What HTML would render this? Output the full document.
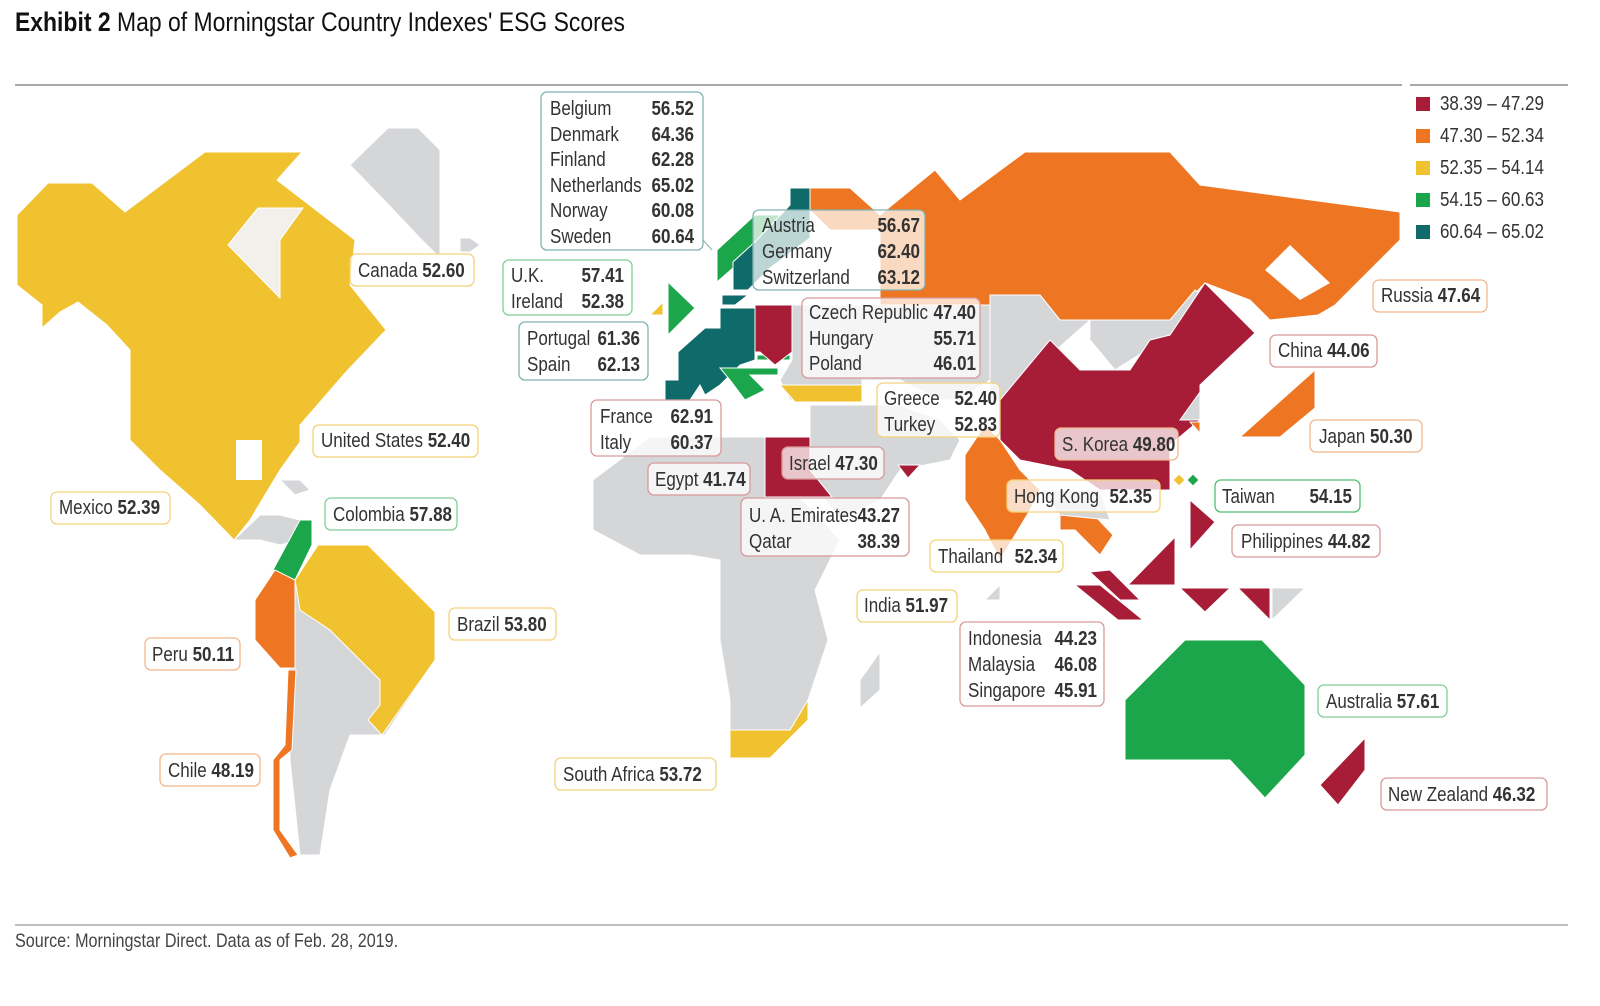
<!DOCTYPE html>
<html><head><meta charset="utf-8"><style>
html,body{margin:0;padding:0;background:#fff;width:1600px;height:1006px;overflow:hidden}
svg{display:block}
text{font-family:"Liberation Sans Narrow","Liberation Sans",sans-serif;font-size:20px;fill:#333;transform-box:fill-box;transform-origin:0 50%;transform:scaleX(0.85)}
text.r{text-anchor:end;transform-origin:100% 50%}
.b{font-weight:bold}
.lb{fill:rgba(255,255,255,0.75);stroke-width:1.3}
</style></head><body>
<svg width="1600" height="1006" viewBox="0 0 1600 1006">
<text x="15" y="31" style="font-size:27px;fill:#111;transform:scaleX(0.85)"><tspan class="b">Exhibit 2</tspan> Map of Morningstar Country Indexes' ESG Scores</text>
<line x1="15" y1="85" x2="1402" y2="85" stroke="#aaa" stroke-width="2"/>
<line x1="1410" y1="85" x2="1568" y2="85" stroke="#aaa" stroke-width="2"/>
<line x1="15" y1="925" x2="1568" y2="925" stroke="#aaa" stroke-width="1.5"/>
<text x="15" y="947" style="font-size:19px;fill:#444">Source: Morningstar Direct. Data as of Feb. 28, 2019.</text>

<g>
<rect x="1416" y="97" width="14" height="14" fill="#a71c37"/><text x="1440" y="110">38.39 – 47.29</text>
<rect x="1416" y="129" width="14" height="14" fill="#ee7623"/><text x="1440" y="142">47.30 – 52.34</text>
<rect x="1416" y="161" width="14" height="14" fill="#f1c22f"/><text x="1440" y="174">52.35 – 54.14</text>
<rect x="1416" y="193" width="14" height="14" fill="#1ca64b"/><text x="1440" y="206">54.15 – 60.63</text>
<rect x="1416" y="225" width="14" height="14" fill="#0f6a6a"/><text x="1440" y="238">60.64 – 65.02</text>
</g>

<g stroke="#fff" stroke-width="1">
<polygon fill="#d5d6d8" points="350,165 388,128 418,128 440,150 440,258 418,236 384,200"/>
<polygon fill="#d5d6d8" points="460,238 470,238 480,245 470,252 460,252"/>
<polygon fill="#f1c22f" points="17,215 48,183 92,183 125,212 205,152 302,152 277,180 355,240 350,285 386,330 346,372 300,425 300,442 280,470 265,495 250,520 234,540 200,505 160,470 130,440 130,350 107,325 78,302 60,312 42,328 42,305 17,285"/>
<polygon fill="#f3f0ec" points="258,208 303,208 280,240 280,298 228,245"/>
<polygon fill="#fff" stroke="none" points="236,440 262,440 262,480 236,480"/>
<polygon fill="#d5d6d8" points="234,540 260,515 280,515 300,520 300,540 280,545 260,540"/>
<polygon fill="#d5d6d8" points="280,480 300,480 310,490 295,495"/>
<polygon fill="#d5d6d8" points="255,600 275,570 295,580 320,545 365,545 435,620 435,660 385,735 350,735 330,790 320,855 300,855 290,760 290,670 255,640"/>
<polygon fill="#1ca64b" points="273,570 300,520 312,520 312,545 295,580"/>
<polygon fill="#f1c22f" points="295,580 318,545 368,545 435,612 435,660 382,735 368,720 380,705 380,680 350,650 330,630 300,610"/>
<polygon fill="#ee7623" points="255,600 275,570 295,580 295,668 280,668 255,640"/>
<polygon fill="#ee7623" points="288,670 296,670 292,750 280,760 280,830 298,855 290,858 273,830 273,760 285,745"/>
<polygon fill="#1ca64b" points="717,250 755,215 785,215 752,245 733,262 733,268 717,282"/>
<polygon fill="#0f6a6a" points="733,262 757,240 790,205 790,188 810,188 810,238 770,268 748,290 733,290"/>
<polygon fill="#0f6a6a" points="722,295 748,295 735,305 722,305"/>
<polygon fill="#1ca64b" points="668,282 695,308 668,335"/>
<polygon fill="#f1c22f" points="650,315 663,302 663,315"/>
<polygon fill="#0f6a6a" points="720,308 755,308 755,360 740,365 720,385 705,395 700,385 690,400 665,400 665,380 678,380 678,352 705,328 720,328"/>
<polygon fill="#1ca64b" points="720,368 778,368 778,375 750,375 765,390 745,400 730,380"/>
<polygon fill="#ee7623" points="757,345 770,345 782,355 768,355"/>
<polygon fill="#1ca64b" points="757,355 790,355 790,360 757,360"/>
<polygon fill="#a71c37" points="755,305 792,305 792,352 775,365 760,352 755,352"/>
<polygon fill="#d5d6d8" points="792,305 990,305 990,380 960,400 940,400 900,380 862,380 862,400 790,400 780,380 792,360"/>
<polygon fill="#f1c22f" points="780,385 862,385 862,402 795,402"/>
<polygon fill="#ee7623" points="810,188 850,188 880,215 935,170 960,200 1025,152 1170,152 1200,185 1400,212 1400,240 1335,305 1318,315 1270,320 1250,300 1205,283 1170,320 1060,320 1040,295 990,295 990,305 880,305 880,230 830,230 810,210"/>
<polygon fill="#fff" stroke="none" points="1265,270 1290,245 1330,283 1300,300"/>
<polygon fill="#d5d6d8" points="990,295 1040,295 1060,320 1090,320 1000,400 990,400"/>
<polygon fill="#d5d6d8" points="1090,320 1170,320 1195,290 1210,300 1170,335 1115,370 1090,340"/>
<polygon fill="#d5d6d8" points="810,405 900,405 940,420 960,440 950,460 900,470 880,500 840,520 810,480 810,440"/>
<polygon fill="#a71c37" points="1000,400 1050,340 1080,370 1130,370 1150,340 1170,335 1205,283 1255,333 1200,385 1200,420 1170,445 1170,490 1100,490 1070,470 1020,460 1000,440"/>
<polygon fill="#d5d6d8" points="1200,392 1200,420 1180,420"/>
<polygon fill="#ee7623" points="1190,422 1200,422 1200,433"/>
<polygon fill="#ee7623" points="965,455 985,425 1000,440 1020,470 1040,490 1030,510 1000,560 985,530 965,500"/>
<polygon fill="#ee7623" points="1060,500 1080,500 1113,535 1100,555 1075,530 1060,530"/>
<polygon fill="#d5d6d8" points="1040,490 1100,490 1110,520 1060,515"/>
<polygon fill="#ee7623" points="1240,437 1315,370 1315,408 1280,437"/>
<polygon fill="#f1c22f" points="1179,474 1185,480 1179,486 1173,480"/>
<polygon fill="#1ca64b" points="1193,474 1199,480 1193,486 1187,480"/>
<polygon fill="#a71c37" points="1190,500 1215,522 1190,550"/>
<polygon fill="#a71c37" points="1128,585 1175,537 1175,585"/>
<polygon fill="#a71c37" points="1090,572 1110,570 1140,600 1120,600"/>
<polygon fill="#a71c37" points="1075,585 1100,585 1143,620 1118,620"/>
<polygon fill="#a71c37" points="1180,588 1230,588 1205,612"/>
<polygon fill="#a71c37" points="1238,588 1270,588 1270,620"/>
<polygon fill="#d5d6d8" points="1272,588 1305,588 1272,620"/>
<polygon fill="#d5d6d8" points="985,600 1000,585 1000,600"/>
<polygon fill="#d5d6d8" points="593,480 650,437 765,437 765,497 800,497 840,540 815,590 828,640 808,700 808,720 770,758 730,758 730,700 720,640 720,560 690,555 640,555 593,530"/>
<polygon fill="#a71c37" points="765,437 810,437 810,470 832,497 765,497"/>
<polygon fill="#f1c22f" points="730,730 790,730 808,700 808,720 770,758 730,758"/>
<polygon fill="#d5d6d8" points="860,680 880,652 880,690 860,708"/>
<polygon fill="#a71c37" points="898,465 920,465 908,478"/>
<polygon fill="#1ca64b" points="1125,700 1185,640 1262,640 1305,685 1305,755 1265,798 1230,760 1125,760"/>
<polygon fill="#a71c37" points="1320,785 1365,738 1365,770 1338,805"/>
</g>

<g>
<path d="M703,240 L712,250" stroke="#7fb3b0" fill="none"/>
<rect class="lb" x="541" y="92" width="162" height="158" rx="6" stroke="#7fb3b0"/>
<text x="550" y="115">Belgium</text><text x="694" y="115" class="r b">56.52</text>
<text x="550" y="141">Denmark</text><text x="694" y="141" class="r b">64.36</text>
<text x="550" y="166">Finland</text><text x="694" y="166" class="r b">62.28</text>
<text x="550" y="192">Netherlands</text><text x="694" y="192" class="r b">65.02</text>
<text x="550" y="217">Norway</text><text x="694" y="217" class="r b">60.08</text>
<text x="550" y="243">Sweden</text><text x="694" y="243" class="r b">60.64</text>

<rect class="lb" x="350" y="254" width="124" height="32" rx="6" stroke="#f3d27a"/>
<text x="358" y="277">Canada <tspan class="b">52.60</tspan></text>

<rect class="lb" x="503" y="260" width="129" height="55" rx="6" stroke="#7fcf98"/>
<text x="511" y="282">U.K.</text><text x="624" y="282" class="r b">57.41</text>
<text x="511" y="308">Ireland</text><text x="624" y="308" class="r b">52.38</text>

<rect x="753" y="210" width="172" height="80" rx="6" fill="rgba(255,255,255,0.72)" stroke="#7fb3b0" stroke-width="1.3"/>
<text x="762" y="232">Austria</text><text x="920" y="232" class="r b">56.67</text>
<text x="762" y="258">Germany</text><text x="920" y="258" class="r b">62.40</text>
<text x="762" y="284">Switzerland</text><text x="920" y="284" class="r b">63.12</text>

<rect class="lb" x="802" y="298" width="178" height="80" rx="6" stroke="#d89a9a"/>
<text x="809" y="319">Czech Republic</text><text x="976" y="319" class="r b">47.40</text>
<text x="809" y="345">Hungary</text><text x="976" y="345" class="r b">55.71</text>
<text x="809" y="370">Poland</text><text x="976" y="370" class="r b">46.01</text>

<rect class="lb" x="519" y="322" width="129" height="58" rx="6" stroke="#7fb3b0"/>
<text x="527" y="345">Portugal</text><text x="640" y="345" class="r b">61.36</text>
<text x="527" y="371">Spain</text><text x="640" y="371" class="r b">62.13</text>

<rect class="lb" x="1373" y="280" width="114" height="32" rx="6" stroke="#f3b68a"/>
<text x="1381" y="302">Russia <tspan class="b">47.64</tspan></text>

<rect class="lb" x="1270" y="335" width="107" height="32" rx="6" stroke="#d89a9a"/>
<text x="1278" y="357">China <tspan class="b">44.06</tspan></text>

<rect class="lb" x="877" y="383" width="123" height="54" rx="6" stroke="#f3d27a"/>
<text x="884" y="405">Greece</text><text x="997" y="405" class="r b">52.40</text>
<text x="884" y="431">Turkey</text><text x="997" y="431" class="r b">52.83</text>

<rect class="lb" x="591" y="400" width="130" height="56" rx="6" stroke="#d89a9a"/>
<text x="600" y="423">France</text><text x="713" y="423" class="r b">62.91</text>
<text x="600" y="449">Italy</text><text x="713" y="449" class="r b">60.37</text>

<rect class="lb" x="1310" y="420" width="112" height="32" rx="6" stroke="#f3b68a"/>
<text x="1319" y="443">Japan <tspan class="b">50.30</tspan></text>

<rect class="lb" x="313" y="425" width="165" height="32" rx="6" stroke="#f3d27a"/>
<text x="321" y="447">United States <tspan class="b">52.40</tspan></text>

<rect class="lb" x="1055" y="428" width="123" height="32" rx="6" stroke="#f3b68a"/>
<text x="1062" y="451">S. Korea <tspan class="b">49.80</tspan></text>

<rect class="lb" x="782" y="447" width="102" height="32" rx="6" stroke="#d89a9a"/>
<text x="789" y="470">Israel <tspan class="b">47.30</tspan></text>

<rect class="lb" x="648" y="463" width="102" height="32" rx="6" stroke="#d89a9a"/>
<text x="655" y="486">Egypt <tspan class="b">41.74</tspan></text>

<rect class="lb" x="1007" y="480" width="153" height="32" rx="6" stroke="#f3d27a"/>
<text x="1014" y="503">Hong Kong</text><text x="1152" y="503" class="r b">52.35</text>

<rect class="lb" x="1215" y="480" width="145" height="32" rx="6" stroke="#4fbf70"/>
<text x="1222" y="503">Taiwan</text><text x="1352" y="503" class="r b">54.15</text>

<rect class="lb" x="51" y="492" width="119" height="32" rx="6" stroke="#f3d27a"/>
<text x="59" y="514">Mexico <tspan class="b">52.39</tspan></text>

<rect class="lb" x="325" y="498" width="132" height="32" rx="6" stroke="#7fcf98"/>
<text x="333" y="521">Colombia <tspan class="b">57.88</tspan></text>

<rect class="lb" x="741" y="498" width="168" height="58" rx="6" stroke="#d89a9a"/>
<text x="749" y="522">U. A. Emirates</text><text x="900" y="522" class="r b">43.27</text>
<text x="749" y="548">Qatar</text><text x="900" y="548" class="r b">38.39</text>

<rect class="lb" x="1232" y="525" width="148" height="32" rx="6" stroke="#d89a9a"/>
<text x="1241" y="548">Philippines <tspan class="b">44.82</tspan></text>

<rect class="lb" x="930" y="540" width="133" height="32" rx="6" stroke="#f3d27a"/>
<text x="938" y="563">Thailand</text><text x="1057" y="563" class="r b">52.34</text>

<rect class="lb" x="857" y="590" width="100" height="32" rx="6" stroke="#f3d27a"/>
<text x="864" y="612">India <tspan class="b">51.97</tspan></text>

<rect class="lb" x="449" y="608" width="107" height="32" rx="6" stroke="#f3d27a"/>
<text x="457" y="631">Brazil <tspan class="b">53.80</tspan></text>

<rect class="lb" x="960" y="622" width="144" height="84" rx="6" stroke="#d89a9a"/>
<text x="968" y="645">Indonesia</text><text x="1097" y="645" class="r b">44.23</text>
<text x="968" y="671">Malaysia</text><text x="1097" y="671" class="r b">46.08</text>
<text x="968" y="697">Singapore</text><text x="1097" y="697" class="r b">45.91</text>

<rect class="lb" x="145" y="638" width="95" height="32" rx="6" stroke="#f3b68a"/>
<text x="152" y="661">Peru <tspan class="b">50.11</tspan></text>

<rect class="lb" x="1318" y="685" width="129" height="32" rx="6" stroke="#7fcf98"/>
<text x="1326" y="708">Australia <tspan class="b">57.61</tspan></text>

<rect class="lb" x="160" y="754" width="100" height="32" rx="6" stroke="#f3b68a"/>
<text x="168" y="777">Chile <tspan class="b">48.19</tspan></text>

<rect class="lb" x="555" y="758" width="161" height="32" rx="6" stroke="#f3d27a"/>
<text x="563" y="781">South Africa <tspan class="b">53.72</tspan></text>

<rect class="lb" x="1381" y="778" width="166" height="32" rx="6" stroke="#d89a9a"/>
<text x="1388" y="801">New Zealand <tspan class="b">46.32</tspan></text>
</g>
</svg>
</body></html>
